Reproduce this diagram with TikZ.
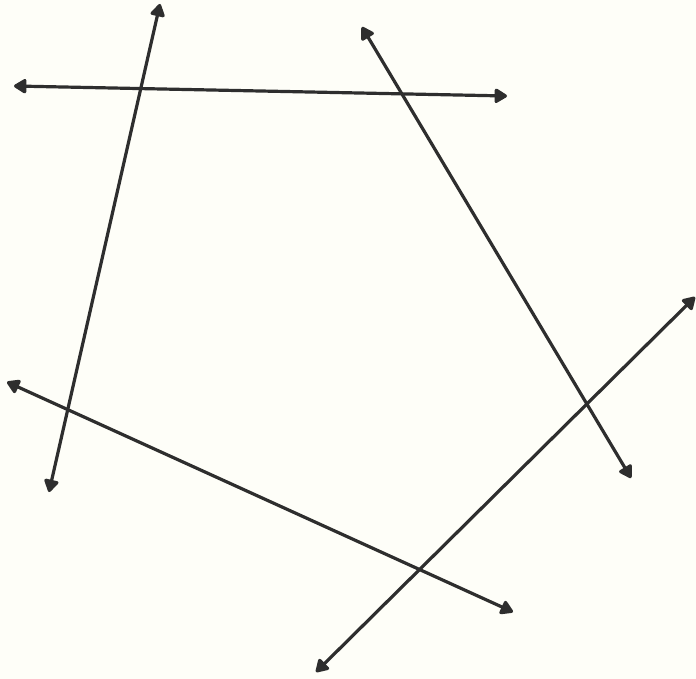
\documentclass[tikz,border=0pt]{standalone}
\usetikzlibrary{arrows.meta}
\begin{document}
\begin{tikzpicture}[x=1pt,y=-1pt,line cap=round,line join=round,
	>={Triangle[length=14pt,width=16pt,round]}]
	\tikzset{line2/.style={<->,line width=3.2pt,color=black!82}}
	\useasboundingbox[fill={rgb,255:red,254;green,254;blue,248}] (0,0) rectangle (696,679);
	% end points of the five lines
	\coordinate (a1) at (14,86);   \coordinate (a2) at (507,96);
	\coordinate (b1) at (160,4);   \coordinate (b2) at (49,492);
	\coordinate (c1) at (362,27);  \coordinate (c2) at (631,478);
	\coordinate (d1) at (695,297); \coordinate (d2) at (316,672);
	\coordinate (e1) at (7,382);   \coordinate (e2) at (513,612);
	\draw[line2] (a1)--(a2);
	\draw[line2] (b1)--(b2);
	\draw[line2] (c1)--(c2);
	\draw[line2] (d1)--(d2);
	\draw[line2] (e1)--(e2);
\end{tikzpicture}
\end{document}
